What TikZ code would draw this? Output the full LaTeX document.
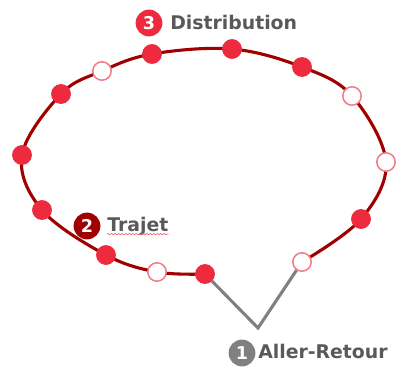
\documentclass[tikz,border=0pt]{standalone}
\usepackage{fontspec}
\setmainfont{DejaVu Sans}
\usepackage{tikz}
\usetikzlibrary{backgrounds}
\usetikzlibrary{decorations.pathmorphing}

\definecolor{dotred}{HTML}{EE2A3F}
\definecolor{ringred}{HTML}{F27C87}
\definecolor{loopred}{HTML}{A00000}
\definecolor{badgegray}{HTML}{808080}
\definecolor{textgray}{HTML}{595959}

\begin{document}
\begin{tikzpicture}[x=0.025cm, y=-0.025cm,
        dot_style/.style={circle,fill=dotred,draw=dotred,line width=0.4pt,minimum size=0.48cm,inner sep=0pt},
        ring_style/.style={circle,fill=white,draw=ringred,line width=1.1pt,minimum size=0.46cm,inner sep=0pt},
        badge_style/.style={circle,minimum size=0.67cm,inner sep=0pt,text=white,font=\fontsize{12.5}{13}\selectfont\bfseries},
        label_style/.style={inner sep=0pt,text=textgray,font=\fontsize{13.4}{15}\selectfont\bfseries},
        loop_style/.style={draw=loopred,line width=2.2pt},
        vline_style/.style={draw=badgegray,line width=2.2pt}]

        \useasboundingbox (0,0) rectangle (399,367);

        % stops along the tour
        \node [dot_style](d1) at (205,274) {};
        \node [ring_style](d2) at (157,272) {};
        \node [dot_style](d3) at (106,255) {};
        \node [dot_style](d4) at (42,210) {};
        \node [dot_style](d5) at (22,155) {};
        \node [dot_style](d6) at (61,94) {};
        \node [ring_style](d7) at (102,71) {};
        \node [dot_style](d8) at (152,54) {};
        \node [dot_style](d9) at (232,49) {};
        \node [dot_style](d10) at (302,67) {};
        \node [ring_style](d11) at (352,96) {};
        \node [ring_style](d12) at (386,162) {};
        \node [dot_style](d13) at (361,219) {};
        \node [ring_style](d14) at (302,262) {};
        \coordinate (apex) at (258,328);

        \begin{pgfonlayer}{background}
        \draw [loop_style] plot[smooth, tension=0.6] coordinates {(d1.center) (d2.center) (d3.center) (d4.center) (d5.center) (d6.center) (d7.center) (d8.center) (d9.center) (d10.center) (d11.center) (d12.center) (d13.center) (d14.center)};
        \end{pgfonlayer}
        \draw [vline_style] (d1) -- (apex) -- (d14);

        % labels
        \node [badge_style,fill=dotred](b3) at (149,23) {3};
        \node [label_style,anchor=base west](distrib) at (170,30) {Distribution};
        \node [badge_style,fill=loopred](b2) at (87,226) {2};
        \node [label_style,anchor=base west](trajet) at (107,231) {Trajet};
        \draw [draw=dotred!70,line width=0.5pt,decorate,decoration={snake,amplitude=0.5pt,segment length=2.5pt}]
            ([yshift=-2.2pt]trajet.base west) -- ([yshift=-2.2pt]trajet.base east);
        \node [badge_style,fill=badgegray](b1) at (242,353) {1};
        \node [label_style,anchor=base west](aller) at (258,358) {Aller-Retour};
\end{tikzpicture}
\end{document}
